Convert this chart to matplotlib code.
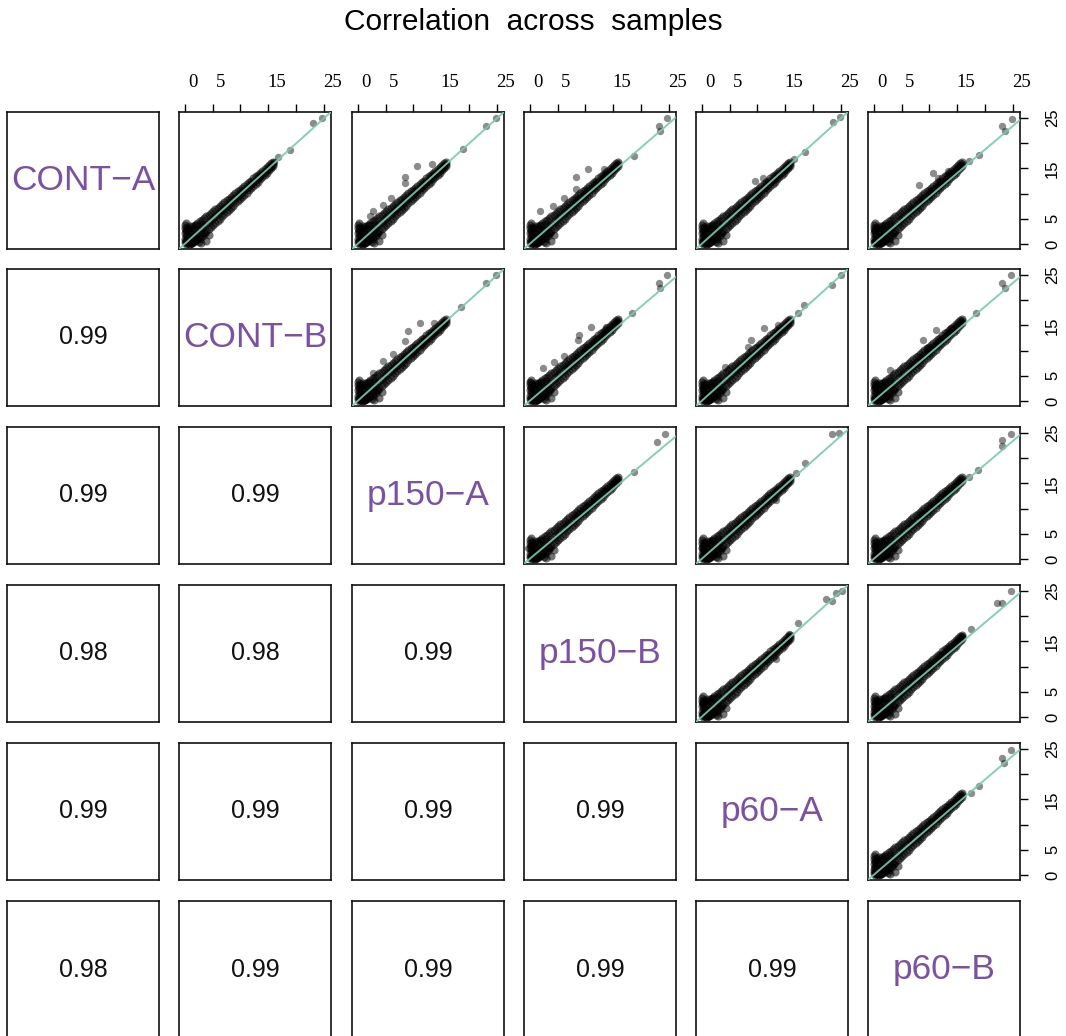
import matplotlib
matplotlib.use("Agg")
import matplotlib.pyplot as plt
import matplotlib.transforms as mtransforms

# nomes das amostras (diagonal)
amostras = ["CONT\u2212A", "CONT\u2212B", "p150\u2212A", "p150\u2212B", "p60\u2212A", "p60\u2212B"]

# correlações (triângulo inferior), linha a linha
correlacoes = [
    [],
    [0.99],
    [0.99, 0.99],
    [0.98, 0.98, 0.99],
    [0.99, 0.99, 0.99, 0.99],
    [0.98, 0.99, 0.99, 0.99, 0.99],
]

# ticks dos eixos
ticks = [0, 5, 10, 15, 20, 25]
rotulos_ticks = ["0", "5", "", "15", "", "25"]

# nuvem principal (comum aos painéis)
faixa_x = [0.3, 0.7, 1.1, 1.5, 1.9, 2.3, 2.7, 3.1, 3.5, 3.9, 4.3, 4.7, 5.1, 5.5, 5.9, 6.3, 6.7, 7.1, 7.5, 7.9,
           8.3, 8.7, 9.1, 9.5, 9.9, 10.3, 10.7, 11.1, 11.5, 11.9, 12.3, 12.7, 13.1, 13.5, 13.9, 14.3, 14.7,
           15.1, 15.5, 15.9]
faixa_sup = [2.6, 2.9, 3.2, 3.5, 3.8, 4.1, 4.5, 4.8, 5.1, 5.5, 5.8, 6.2, 6.5, 6.9, 7.2, 7.6, 8.0, 8.3, 8.7, 9.0,
             9.4, 9.8, 10.1, 10.5, 10.8, 11.2, 11.6, 11.9, 12.3, 12.6, 13.0, 13.4, 13.7, 14.1, 14.5, 14.8, 15.2,
             15.6, 16.0, 16.3]
faixa_inf = [0.0, 0.0, 0.1, 0.3, 0.6, 0.9, 1.3, 1.7, 2.1, 2.5, 2.9, 3.3, 3.8, 4.2, 4.6, 5.0, 5.5, 5.9, 6.3, 6.8,
             7.2, 7.6, 8.1, 8.5, 8.9, 9.4, 9.8, 10.2, 10.7, 11.1, 11.5, 12.0, 12.4, 12.8, 13.3, 13.7, 14.1,
             14.6, 15.0, 15.4]
origem_x = [0.0, 0.0, 0.1, 0.1, 0.2, 0.3, 0.4, 0.5, 0.6, 0.8, 0.9, 1.0, 1.2, 1.4, 1.6, 1.8, 2.0, 2.2, 2.5, 2.8,
            3.0, 3.3, 0.2, 0.5, 1.1, 1.7, 2.4, 0.7, 1.3, 3.6, 2.9, 3.9, 4.3, 0.0, 0.3]
origem_y = [1.0, 2.2, 3.2, 0.3, 1.6, 2.7, 0.1, 3.4, 1.1, 2.4, 0.0, 3.6, 1.4, 0.2, 2.9, 0.6, 3.8, 1.0, 0.3, 0.9,
            4.0, 1.6, 0.6, 1.8, 2.2, 1.5, 2.7, 0.4, 0.2, 2.2, 0.1, 0.6, 1.7, 3.8, 4.2]

# painéis do triângulo superior (linha, coluna)
paineis = [(0, 1), (0, 2), (0, 3), (0, 4), (0, 5),
           (1, 2), (1, 3), (1, 4), (1, 5),
           (2, 3), (2, 4), (2, 5),
           (3, 4), (3, 5),
           (4, 5)]

# inclinação da reta ajustada em cada painel
inclinacoes = [1.0, 1.0, 0.96, 1.0, 0.94,
               1.0, 0.94, 1.0, 0.94,
               0.93, 0.98, 0.94,
               1.0, 0.94,
               0.95]

# pontos afastados em cada painel
extra_x = [
    [23.0, 24.5, 16.8, 18.8, 16.0],
    [10.6, 8.4, 8.4, 13.4, 18.8, 22.9, 24.7, 2.8, 2.2, 4.5, 6.0],
    [10.4, 8.3, 8.3, 13.4, 18.7, 23.1, 24.6, 23.4, 1.8, 4.2, 6.2],
    [9.5, 11.0, 16.5, 18.5, 23.5, 24.8],
    [8.2, 10.6, 11.5, 13.4, 17.1, 18.9, 23.0, 23.5, 24.8, 0.0],
    [11.1, 9.0, 8.4, 13.7, 18.5, 22.9, 24.7, 2.8, 4.6, 6.3],
    [11.0, 8.9, 8.6, 13.6, 18.4, 23.1, 24.6, 23.4, 0.1, 2.4, 4.4, 6.1],
    [11.2, 8.9, 8.3, 13.6, 18.3, 17.2, 23.4, 24.9, 4.1, 0.3],
    [11.2, 8.8, 9.5, 13.9, 18.3, 23.0, 24.5, 23.5, 0.2, 2.9],
    [24.3, 22.8, 18.7, -0.2, 0.6],
    [23.4, 24.6, 18.5, 16.9, 13.3, 0.0],
    [23.0, 24.5, 23.0, 18.6, 17.1, 0.2],
    [24.0, 25.2, 22.2, 23.4, 17.2, 15.7, 13.3, 0.0],
    [24.5, 23.0, 22.1, 17.4, 15.9, 0.0],
    [24.5, 23.0, 23.3, 18.9, 17.4, 11.5, 0.0],
]
extra_y = [
    [24.0, 25.0, 17.2, 18.6, 16.3],
    [15.5, 13.2, 12.2, 15.8, 18.8, 23.4, 25.1, 6.5, 5.6, 7.8, 9.1],
    [14.8, 13.2, 10.9, 14.8, 17.5, 23.4, 25.1, 22.4, 6.5, 7.6, 9.2],
    [12.5, 13.0, 16.8, 18.3, 24.2, 25.2],
    [11.8, 14.1, 13.0, 14.5, 16.5, 17.6, 23.5, 22.4, 24.9, 2.8],
    [15.4, 13.8, 11.9, 15.4, 18.7, 23.4, 25.0, 5.5, 7.9, 9.3],
    [14.7, 13.1, 12.1, 14.7, 17.4, 23.5, 25.0, 22.4, 3.8, 6.5, 7.7, 9.0],
    [14.4, 12.1, 10.8, 15.1, 19.0, 17.4, 23.1, 25.0, 6.8, 2.2],
    [14.1, 12.1, 10.6, 14.4, 17.5, 23.5, 25.0, 22.4, 3.0, 6.2],
    [24.9, 23.3, 17.3, 2.1, 0.5],
    [24.9, 25.1, 19.0, 17.0, 11.7, 2.1],
    [23.6, 24.9, 22.4, 17.7, 16.3, 2.4],
    [24.7, 25.0, 23.4, 23.0, 18.7, 16.4, 11.6, 2.8],
    [25.0, 22.7, 22.6, 17.5, 16.1, 1.5],
    [24.9, 23.3, 22.3, 17.7, 16.3, 11.7, 1.4],
]

ROXO = "#7b52a3"
VERDE = "#78cbaa"
W, H = 1066, 1036
esquerdas = [7, 179, 352, 524, 696, 868]
topos = [112, 269, 427, 585, 743, 901]
LARG, ALT = 152, 137
LIM = (-1.0, 26.2)

plt.rcParams["font.family"] = ["Liberation Sans", "DejaVu Sans"]

fig = plt.figure(figsize=(W / 100, H / 100), dpi=100)
fig.text(0.5, 1 - 22 / H, "Correlation  across  samples", ha="center", va="center", fontsize=21.5)

eixos = {}
for i in range(6):
    for j in range(6):
        ax = fig.add_axes([esquerdas[j] / W, 1 - (topos[i] + ALT) / H, LARG / W, ALT / H])
        ax.set_xlim(LIM)
        ax.set_ylim(LIM)
        ax.set_xticks([])
        ax.set_yticks([])
        for s in ax.spines.values():
            s.set_linewidth(1.2)
            s.set_color("#111111")
        eixos[(i, j)] = ax

# diagonal
for k, nome in enumerate(amostras):
    eixos[(k, k)].text(0.5, 0.5, nome, transform=eixos[(k, k)].transAxes, ha="center", va="center",
                       fontsize=25.5, color=ROXO)

# triângulo inferior
for i, linha in enumerate(correlacoes):
    for j, r in enumerate(linha):
        eixos[(i, j)].text(0.5, 0.5, f"{r:.2f}", transform=eixos[(i, j)].transAxes, ha="center",
                           va="center", fontsize=18, color="#111111")

# triângulo superior
for n, (i, j) in enumerate(paineis):
    ax = eixos[(i, j)]
    pts = dict(s=34, c="black", alpha=0.55, linewidths=0, zorder=2)
    ax.scatter(faixa_x, faixa_sup, **pts)
    ax.scatter(faixa_x, faixa_x, **pts)
    ax.scatter(faixa_x, faixa_inf, **pts)
    ax.scatter(origem_x, origem_y, **pts)
    ax.scatter(extra_x[n], extra_y[n], s=28, c="black", alpha=0.45, linewidths=0, zorder=2)
    b = inclinacoes[n]
    ax.plot([LIM[0], LIM[1]], [b * LIM[0], b * LIM[1]], color=VERDE, lw=1.4, alpha=0.9, zorder=3)

# eixo superior
desloc = mtransforms.ScaledTranslation(8 / 100, 0, fig.dpi_scale_trans)
for j in range(1, 6):
    ax = eixos[(0, j)]
    ax.xaxis.tick_top()
    ax.set_xticks(ticks)
    ax.set_xticklabels(rotulos_ticks, family="Liberation Serif", fontsize=13.5)
    ax.tick_params(axis="x", length=6, width=1.0, pad=9)
    for rot in ax.get_xticklabels():
        rot.set_transform(rot.get_transform() + desloc)

# eixo da direita
for i in range(5):
    ax = eixos[(i, 5)]
    ax.yaxis.tick_right()
    ax.set_yticks(ticks)
    ax.set_yticklabels(rotulos_ticks, fontsize=12, rotation=90, va="center")
    ax.tick_params(axis="y", length=6, width=1.0, pad=12)

plt.savefig("out.png", dpi=100)
